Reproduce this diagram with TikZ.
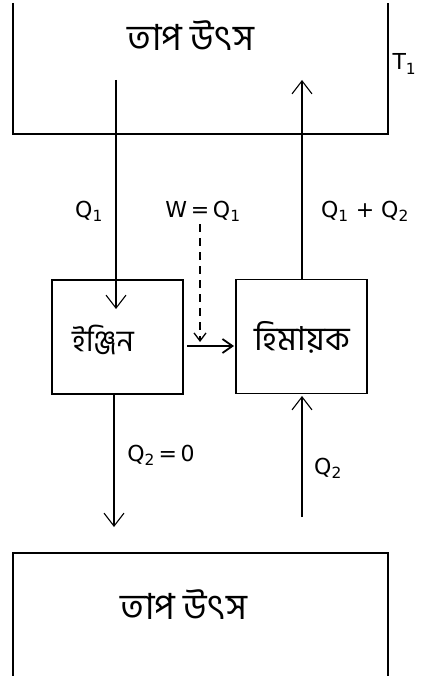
\documentclass[tikz,border=0pt]{standalone}
\usepackage{fontspec}
\setmainfont{DejaVu Sans}
\newfontfamily\bn[Script=Bengali]{Hind Siliguri}
\usetikzlibrary{arrows.meta}
\begin{document}
\begin{tikzpicture}[x=1pt,y=-1pt,
  line width=1.1pt,
  wall/.style={line width=1.2pt},
  unitbox/.style={draw,line width=1.2pt,minimum width=131pt,minimum height=114pt,inner sep=0pt},
  flow/.style={-{Straight Barb[length=13pt,width=20pt,line width=1.1pt]}},
  bnlabel/.style={font=\bn\fontsize{36}{38}\selectfont},
  bnbox/.style={font=\bn\fontsize{30}{32}\selectfont},
  qlabel/.style={font=\fontsize{22}{26}\selectfont,inner sep=0pt}]
\useasboundingbox (0,0) rectangle (421,676);
% top reservoir
\draw[wall] (13,3) -- (13,134) -- (388,134) -- (388,3);
\node[bnlabel] (hot) at (191,36) {তাপ উৎস};
\node[qlabel,anchor=west] (T1) at (392,64) {T\textsubscript{1}};
% bottom reservoir
\draw[wall] (13,676) -- (13,553) -- (388,553) -- (388,676);
\node[bnlabel] (cold) at (184,605) {তাপ উৎস};
% boxes
\node[unitbox] (engine) at (117.5,337) {};
\node[bnbox] (enginetext) at (103,340) {ইঞ্জিন};
\node[unitbox] (fridge) at (301.5,336.5) {};
\node[bnbox,font=\bn\fontsize{33}{35}\selectfont] (fridgetext) at (302,337) {হিমায়ক};
% coordinates
\coordinate (q1s) at (116,80);
\coordinate (q1e) at (116,309);
\coordinate (rup) at (302,80);
\coordinate (q2s) at (114,394);
\coordinate (q2e) at (114,527);
\coordinate (r2s) at (302,517);
\coordinate (r2e) at (302,396);
\coordinate (ws) at (200,224);
\coordinate (we) at (200,342);
\coordinate (hs) at (187,346);
\coordinate (he) at (234,346);
% flows
\draw[flow] (q1s) -- (q1e);
\draw[flow] (fridge.north -| rup) -- (rup);
\draw[flow] (q2s) -- (q2e);
\draw[flow] (r2s) -- (r2e);
\draw[dashed,dash pattern=on 8pt off 6pt,-{Straight Barb[length=8pt,width=12pt,line width=1.3pt]}] (ws) -- (we);
\draw[line width=2.6pt,-{Straight Barb[length=10pt,width=14pt,line width=1.8pt]}] (hs) -- (he);
% labels
\node[qlabel] (lq1) at (89,211) {Q\textsubscript{1}};
\node[qlabel] (lw) at (203,211) {W\,=\,Q\textsubscript{1}};
\node[qlabel] (lq12) at (365,211) {Q\textsubscript{1} + Q\textsubscript{2}};
\node[qlabel] (lq20) at (161,455) {Q\textsubscript{2}\,=\,0};
\node[qlabel] (lq2) at (328,468) {Q\textsubscript{2}};
\end{tikzpicture}
\end{document}
